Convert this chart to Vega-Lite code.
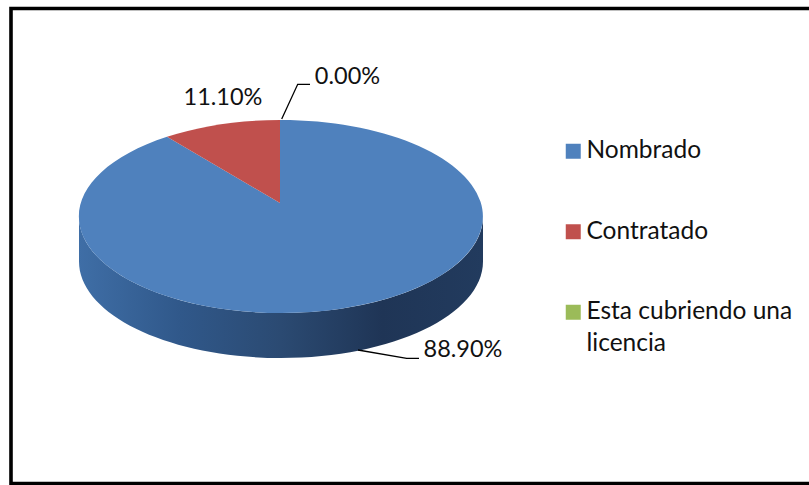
{
"$schema":"https://vega.github.io/schema/vega-lite/v6.json",
"width":800,"height":475,
"autosize":{"type":"none"},
"padding":{"left":11,"top":8.5,"right":0,"bottom":1.5},
"background":"white",
"view":{"stroke":"black","strokeWidth":3.6,"fill":"white"},
"data":{"values":[
{"situacion":"Nombrado","proporcion":0.889},
{"situacion":"Contratado","proporcion":0.111},
{"situacion":"Esta cubriendo una licencia","proporcion":0}
]},
"layer":[
{"transform":[{"filter":"datum.situacion==='Nombrado'"}],
 "mark":{"type":"point","filled":true,"opacity":1,"size":4,"strokeWidth":0,
  "shape":"M-332,-29.5 L-332,15.5 A202,96.5 0 0 0 72,15.5 L72,-29.5 A202,96.5 0 0 1 -332,-29.5 Z",
  "color":{"gradient":"linear","x1":0,"x2":1,"y1":0,"y2":0,"stops":[{"offset":0,"color":"#3f6ea6"},{"offset":0.25,"color":"#30588a"},{"offset":0.5,"color":"#2b4a72"},{"offset":0.75,"color":"#1f3556"},{"offset":1,"color":"#223b5e"}]}},
 "encoding":{}
},
{"transform":[{"filter":"datum.situacion==='Nombrado'"}],
 "mark":{"type":"point","filled":true,"opacity":1,"size":4,"strokeWidth":0,"shape":"M-131,-43 L-244,-109.2 A202,96.5 0 1 0 -131,-126 Z"},
 "encoding":{
  "color":{"field":"situacion","type":"nominal","title":null,
   "scale":{"domain":["Nombrado","Contratado","Esta cubriendo una licencia"],"range":["#4f81bd","#c0504d","#9bbb59"]},
   "legend":{"orient":"none","legendX":550,"legendY":130.5,"padding":0,"symbolType":"square","symbolSize":225,"symbolOpacity":1,"symbolStrokeWidth":0,"labelFont":"Lato","labelFontSize":24.5,"labelColor":"#111111","labelLimit":300,"rowPadding":55.5,"labelOffset":1,"labelExpr":"datum.label==='Esta cubriendo una licencia'?['Esta cubriendo una','licencia']:datum.label","encoding":{"labels":{"lineHeight":{"value":32}}}}}
 }
},
{"transform":[{"filter":"datum.situacion==='Contratado'"}],
 "mark":{"type":"point","filled":true,"opacity":1,"size":4,"strokeWidth":0,"shape":"M-131,-43 L-131,-126 A202,96.5 0 0 0 -244,-109.2 Z"},
 "encoding":{"color":{"field":"situacion","type":"nominal","title":null}}
},
{"transform":[{"filter":"datum.situacion==='Nombrado'"}],
 "mark":{"type":"point","filled":false,"opacity":1,"size":4,"stroke":"black","strokeWidth":1.3,"shape":"M-53,104 L-4.3,112.3 L8,112.3"},
 "encoding":{}
},
{"transform":[{"filter":"datum.situacion==='Esta cubriendo una licencia'"}],
 "mark":{"type":"point","filled":false,"opacity":1,"size":4,"stroke":"black","strokeWidth":1.3,"shape":"M-129.3,-127 L-113.3,-161.7 L-101,-161.7"},
 "encoding":{}
},
{"transform":[{"filter":"datum.situacion==='Nombrado'"}],
 "mark":{"type":"text","font":"Lato","fontSize":23.5,"color":"#111111","dx":52,"dy":104},
 "encoding":{"text":{"field":"proporcion","type":"quantitative","format":".2%"}}
},
{"transform":[{"filter":"datum.situacion==='Contratado'"}],
 "mark":{"type":"text","font":"Lato","fontSize":23.5,"color":"#111111","dx":-188,"dy":-148},
 "encoding":{"text":{"field":"proporcion","type":"quantitative","format":".2%"}}
},
{"transform":[{"filter":"datum.situacion==='Esta cubriendo una licencia'"}],
 "mark":{"type":"text","font":"Lato","fontSize":23.5,"color":"#111111","dx":-63.5,"dy":-169},
 "encoding":{"text":{"field":"proporcion","type":"quantitative","format":".2%"}}
}
]
}
